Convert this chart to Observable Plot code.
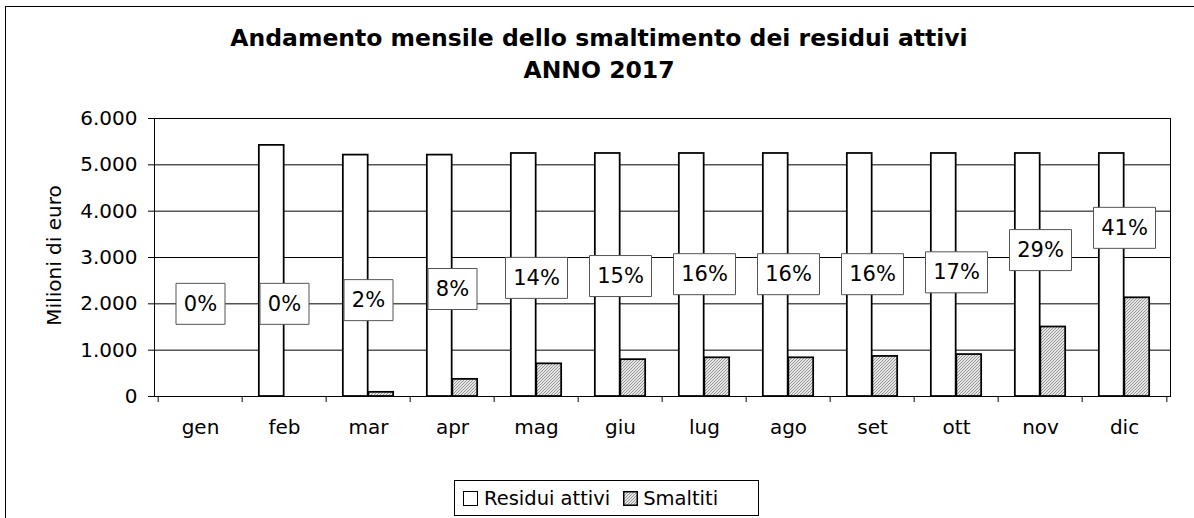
<!DOCTYPE html>
<html>
<head>
<meta charset="utf-8">
<script src="https://cdn.jsdelivr.net/npm/d3@7"></script>
<script src="https://cdn.jsdelivr.net/npm/@observablehq/plot@0.6"></script>
<style>
  body { margin: 0; background: #fff; width: 1194px; height: 518px; overflow: hidden; position: relative; font-family: "DejaVu Sans", Verdana, sans-serif; }
  #outer { position: absolute; left: 5px; top: 6px; width: 1300px; height: 700px; border: 1.5px solid #000; box-sizing: border-box; }
  #title { position: absolute; left: 0; top: 23px; width: 1198px; text-align: center; font-weight: bold; font-size: 23.5px; line-height: 31.6px; color: #000; }
  #chart { position: absolute; left: 0; top: 100px; }
  #legend { position: absolute; left: 454px; top: 480px; width: 305px; height: 36px; border: 1px solid #000; box-sizing: border-box; background: #fff;
            display: flex; align-items: center; font-size: 19.5px; padding-left: 8px; padding-top: 1px; }
  .sw { width: 15px; height: 15px; box-sizing: border-box; display: inline-block; }
  .sw svg { display: block; }
</style>
</head>
<body>
<div id="outer"></div>
<div id="title">Andamento mensile dello smaltimento dei residui attivi<br>ANNO 2017</div>
<div id="chart"></div>
<div id="legend"></div>
<script>
// ---- data ----
const months = ["gen","feb","mar","apr","mag","giu","lug","ago","set","ott","nov","dic"];
const residuiAttivi = [0, 5420, 5210, 5210, 5245, 5245, 5245, 5245, 5245, 5245, 5245, 5245];
const smaltiti = [0, 0, 90, 370, 705, 795, 835, 835, 865, 905, 1500, 2130];
const percentuali = [0, 0, 2, 8, 14, 15, 16, 16, 16, 17, 29, 41];
const yTicks = [0, 1000, 2000, 3000, 4000, 5000, 6000];
const seriesNames = ["Residui attivi", "Smaltiti"];
const titleLines = ["Andamento mensile dello smaltimento dei residui attivi", "ANNO 2017"];
const yLabel = "Milioni di euro";

// ---- layout ----
const W = 1194, H = 340;
const mL = 154, mR = 24, mT = 18, mB = 44;
const step = (W - mL - mR) / months.length;
const barW = 25.5;
const fontSize = 20;
const labelFont = 21;

document.getElementById("title").innerHTML = titleLines.join("<br>");

const rows = months.map((m, i) => ({month: m, residui: residuiAttivi[i], smaltiti: smaltiti[i], pct: percentuali[i]}));
// secondary axis for percentages: -50% .. 100% across the same height as 0 .. 6000
const pctToY = p => (p / 100 + 0.5) / 1.5 * 6000;

const fmt = d3.formatLocale({decimal: ",", thousands: ".", grouping: [3], currency: ["€", ""]}).format(",");

function rectSymbol(w, h) {
  return { draw(ctx) { ctx.rect(-w / 2, -h / 2, w, h); } };
}
const box1 = rectSymbol(49, 41);
const box2 = rectSymbol(62, 41);

const chart = Plot.plot({
  width: W, height: H,
  marginLeft: mL, marginRight: mR, marginTop: mT, marginBottom: mB,
  style: {fontFamily: "'DejaVu Sans', Verdana, sans-serif", fontSize: fontSize + "px", color: "#000", background: "transparent"},
  x: {type: "band", domain: months, padding: 0},
  y: {domain: [0, 6000]},
  marks: [
    Plot.gridY(yTicks, {stroke: "#000", strokeOpacity: 1, strokeWidth: 1}),
    Plot.frame({stroke: "#000", strokeWidth: 1}),
    Plot.barY(rows.filter(d => d.residui > 0), {x: "month", y: "residui", fill: "#fff", stroke: "#000", strokeWidth: 1.75,
      insetLeft: step / 2 - barW, insetRight: step / 2}),
    Plot.barY(rows.filter(d => d.smaltiti > 0), {x: "month", y: "smaltiti", fill: "url(#hatch)", stroke: "#000", strokeWidth: 1.75,
      insetLeft: step / 2, insetRight: step / 2 - barW}),
    Plot.ruleX(months, {x: d => d, dx: -step / 2, y1: 0, y2: -130, stroke: "#000", strokeWidth: 1}),
    Plot.ruleX(months.slice(-1), {x: d => d, dx: step / 2, y1: 0, y2: -130, stroke: "#000", strokeWidth: 1}),
    Plot.axisY(yTicks, {tickSize: 6, tickPadding: 11, tickFormat: fmt, label: null, stroke: "#000"}),
    Plot.axisX({tickSize: 0, tickPadding: 23, label: null}),
    Plot.text([yLabel], {frameAnchor: "left", textAnchor: "middle", rotate: -90, dx: -100, dy: -2, text: d => d, fontSize: fontSize}),
    Plot.dot(rows.filter(d => String(d.pct).length === 1), {x: "month", y: d => pctToY(d.pct), symbol: box1, r: 10, fill: "#fff", stroke: "#555", strokeWidth: 1}),
    Plot.dot(rows.filter(d => String(d.pct).length === 2), {x: "month", y: d => pctToY(d.pct), symbol: box2, r: 10, fill: "#fff", stroke: "#555", strokeWidth: 1}),
    Plot.text(rows, {x: "month", y: d => pctToY(d.pct), text: d => d.pct + "%", fontSize: labelFont, fill: "#000"})
  ]
});

// hatch pattern
const ns = "http://www.w3.org/2000/svg";
function makePattern(id) {
  return `<pattern id="${id}" patternUnits="userSpaceOnUse" width="3" height="3">
    <rect width="3" height="3" fill="#e6e6e6"/>
    <path d="M-1,1 l2,-2 M0,3 l3,-3 M2,4 l2,-2" stroke="#808080" stroke-width="0.8"/>
  </pattern>`;
}
const defs = document.createElementNS(ns, "defs");
defs.innerHTML = makePattern("hatch");
chart.insertBefore(defs, chart.firstChild);
document.getElementById("chart").appendChild(chart);

// legend
const legend = document.getElementById("legend");
legend.innerHTML = `
  <span class="sw" style="border:1.5px solid #000;background:#fff"></span>
  <span style="margin-left:6px">${seriesNames[0]}</span>
  <span class="sw" style="margin-left:13px"><svg width="15" height="15"><defs>${makePattern("hatchL")}</defs><rect x="0.75" y="0.75" width="13.5" height="13.5" fill="url(#hatchL)" stroke="#000" stroke-width="1.5"/></svg></span>
  <span style="margin-left:5px">${seriesNames[1]}</span>`;
</script>
</body>
</html>
